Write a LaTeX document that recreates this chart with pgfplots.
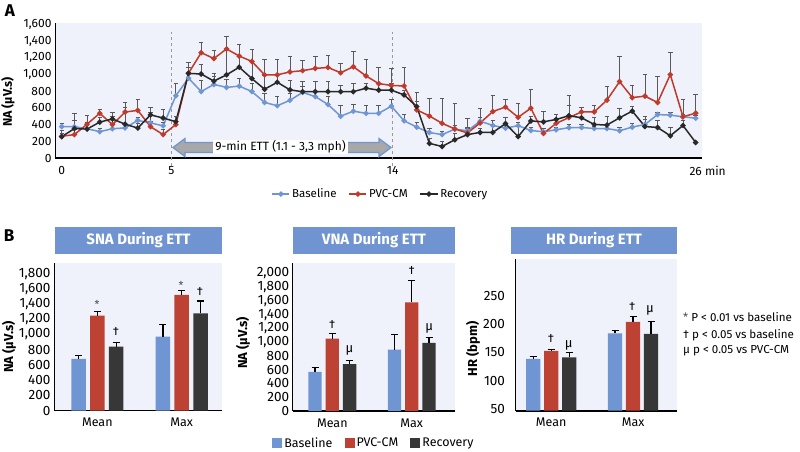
\documentclass[border=0pt]{standalone}
\usepackage{pgfplots}
\usepackage{pgfplotstable}
\pgfplotsset{compat=1.18}
\usepackage{fontspec}
\setmainfont{Fira Sans}
\definecolor{cblue}{RGB}{111,150,210}
\definecolor{cred}{RGB}{192,57,43}
\definecolor{cblack}{RGB}{40,40,40}
\definecolor{bgc}{RGB}{239,242,250}
\definecolor{tbox}{RGB}{112,148,210}
\definecolor{barred}{RGB}{189,66,51}
\definecolor{barblack}{RGB}{55,55,55}
\definecolor{arrgray}{RGB}{168,168,168}
\newcommand{\fs}[1]{\fontsize{#1}{#1}\selectfont}

\pgfplotstableread{
x b be r re k ke
0 375 40 260 30 255 70
1 375 80 280 60 352 180
2 350 40 405 110 346 85
3 315 40 535 45 430 60
4 350 60 400 95 467 75
5 360 50 550 115 405 200
6 450 40 570 135 358 60
7 420 130 375 60 516 85
8 385 40 280 60 478 100
9 745 145 400 40 435 60
10 955 70 1015 125 1012 75
11 795 140 1260 125 1005 110
12 880 100 1190 95 920 90
13 845 100 1305 150 995 310
14 860 90 1220 145 1086 140
15 795 100 1155 150 950 205
16 665 110 995 190 823 170
17 625 110 995 190 906 90
18 690 80 1030 190 815 110
19 785 70 1045 120 793 120
20 735 60 1072 140 794 125
21 640 100 1083 145 794 120
22 500 135 1020 115 794 80
23 560 85 1092 180 794 95
24 535 100 982 200 835 60
25 535 100 890 190 812 80
26 620 85 868 210 812 80
27 445 80 862 220 755 60
28 370 60 576 210 616 60
29 305 50 503 210 175 60
30 280 40 415 295 138 60
31 345 50 348 300 218 80
32 326 150 300 60 280 90
33 440 50 419 175 306 50
34 390 60 556 190 306 70
35 358 40 610 90 411 70
36 387 40 487 170 256 130
37 329 40 596 220 443 60
38 314 40 294 60 433 125
39 338 30 415 60 461 60
40 363 40 483 150 506 240
41 365 40 552 60 481 60
42 353 30 552 75 401 80
43 353 40 692 160 394 100
44 326 40 914 305 481 115
45 370 40 723 150 561 60
46 401 95 740 260 377 80
47 520 30 664 310 365 90
48 513 30 998 265 266 95
49 493 30 493 210 389 60
50 477 30 537 220 186 0
}\dataA

\pgfplotsset{
  barax/.style={
    scale only axis, anchor=south west,
    axis background/.style={fill=bgc},
    axis x line*=bottom, axis y line*=left,
    x axis line style={line width=1.6pt, black},
    y axis line style={line width=0.9pt, black},
    major tick length=0pt,
    xtick={0,1}, xticklabels={Mean,Max},
    ybar,
    /pgf/number format/assume math mode=true,
    /pgf/number format/1000 sep={,},
    yticklabel style={font=\fs{13.5}},
    xticklabel style={font=\fs{12.5}, yshift=-4pt},
    error bars/y dir=plus, error bars/y explicit,
    error bars/error bar style={line width=1.2pt, black},
    error bars/error mark options={rotate=90, mark size=3.5pt, line width=1.2pt, black},
  },
}

\begin{document}
\begin{tikzpicture}
\useasboundingbox (0,0) rectangle (800pt,-451pt);

% ---------------- Panel A ----------------
\node[font=\bfseries\fs{17}] at (10pt,-11pt) {A};
\begin{axis}[
  at={(55pt,-158pt)}, anchor=south west,
  scale only axis, width=647pt, height=135pt,
  xmin=-0.53, xmax=50.5, ymin=0, ymax=1615,
  clip=false,
  axis background/.style={fill=bgc},
  axis x line*=bottom, axis y line*=left,
  x axis line style={line width=1.6pt, black},
  y axis line style={line width=0.9pt, black},
  major tick length=0pt,
  xtick={0,8.65,26.1,50},
  xticklabels={0,5,14,{26\rlap{ min}}},
  ytick={0,200,...,1600},
  /pgf/number format/assume math mode=true,
  /pgf/number format/1000 sep={,},
  tick label style={font=\fs{12}},
  xticklabel style={yshift=-5pt},
  ylabel={NA (μV.s)},
  every axis y label/.style={at={(axis description cs:-0.073,0.415)}, rotate=90, anchor=center, font=\bfseries\fs{12.5}},
  legend style={at={(0.503,-0.267)}, anchor=center, legend columns=3, draw=none, fill=none,
    font=\fs{11.5}, /tikz/every even column/.append style={column sep=10pt}},
  error bars/y dir=plus, error bars/y explicit,
  error bars/error bar style={line width=0.7pt, black!65},
  error bars/error mark options={rotate=90, mark size=2.2pt, line width=0.7pt, black!65},
]
\draw[dashed, black!40, line width=0.8pt] (axis cs:8.65,-90) -- (axis cs:8.65,1510);
\draw[dashed, black!40, line width=0.8pt] (axis cs:26.1,-90) -- (axis cs:26.1,1510);
\addplot[color=cblue, line width=1.5pt, mark=*, mark size=1.9pt] table[x=x, y=b, y error=be] {\dataA};
\addplot[color=cred, line width=1.5pt, mark=*, mark size=1.9pt] table[x=x, y=r, y error=re] {\dataA};
\addplot[color=cblack, line width=1.5pt, mark=*, mark size=1.9pt] table[x=x, y=k, y error=ke] {\dataA};
\legend{Baseline, PVC-CM, Recovery}
\end{axis}

% ETT arrow
\filldraw[fill=arrgray, draw=cblue, line width=1.3pt]
  (173pt,-147.5pt) -- (185pt,-138.5pt) -- (185pt,-142.5pt) -- (379pt,-142.5pt) -- (379pt,-138.5pt)
  -- (391pt,-147.5pt) -- (379pt,-156.5pt) -- (379pt,-152.5pt) -- (185pt,-152.5pt) -- (185pt,-156.5pt) -- cycle;
\node[fill=white, inner sep=1pt, minimum width=135pt, minimum height=13pt, font=\fs{12}] at (280.5pt,-147pt) {9-min ETT (1.1 - 3,3 mph)};

% ---------------- Panel B ----------------
\node[font=\bfseries\fs{17}] at (9pt,-236pt) {B};
\node[fill=tbox, minimum width=167pt, minimum height=27pt, inner sep=0pt, text=white, font=\bfseries\fs{15}] at (138.5pt,-240.5pt) {SNA During ETT};
\node[fill=tbox, minimum width=162pt, minimum height=27pt, inner sep=0pt, text=white, font=\bfseries\fs{15}] at (374pt,-240.5pt) {VNA During ETT};
\node[fill=tbox, minimum width=166pt, minimum height=27pt, inner sep=0pt, text=white, font=\bfseries\fs{15}] at (594pt,-240.5pt) {HR During ETT};

% SNA
\begin{axis}[barax,
  at={(54pt,-410.5pt)}, width=168pt, height=147.2pt,
  xmin=-0.513, xmax=1.477, ymin=0, ymax=1937,
  ytick={0,200,...,1800},
  bar width=14.5pt, ybar=4.3pt,
  ylabel={NA (μV.s)},
  every axis y label/.style={at={(axis description cs:-0.268,0.431)}, rotate=90, anchor=center, font=\bfseries\fs{13}},
]
\addplot[fill=cblue, draw=none] coordinates {(0,678) +- (0,48) (1,971) +- (0,163)};
\addplot[fill=barred, draw=none] coordinates {(0,1248) +- (0,52) (1,1520) +- (0,57)};
\addplot[fill=barblack, draw=none] coordinates {(0,840) +- (0,57) (1,1279) +- (0,162)};
\end{axis}

% VNA
\begin{axis}[barax,
  at={(292.7pt,-411pt)}, width=162.3pt, height=147.7pt,
  xmin=-0.499, xmax=1.545, ymin=0, ymax=2146,
  ytick={0,200,...,2000},
  bar width=13.3pt, ybar=4pt,
  ylabel={NA (μV.s)},
  every axis y label/.style={at={(axis description cs:-0.306,0.46)}, rotate=90, anchor=center, font=\bfseries\fs{13}},
  legend style={at={(0.5,-0.219)}, anchor=center, legend columns=3, draw=none, fill=none,
    font=\fs{12.5}, /tikz/every even column/.append style={column sep=10pt}},
  legend image code/.code={\fill[#1] (0pt,-5pt) rectangle (10pt,5pt);},
]
\addplot[fill=cblue, draw=none] coordinates {(0,568) +- (0,68) (1,893) +- (0,214)};
\addplot[fill=barred, draw=none] coordinates {(0,1053) +- (0,68) (1,1578) +- (0,315)};
\addplot[fill=barblack, draw=none] coordinates {(0,680) +- (0,53) (1,990) +- (0,83)};
\legend{Baseline, PVC-CM, Recovery}
\end{axis}

% HR
\begin{axis}[barax,
  at={(515.5pt,-410.7pt)}, width=161.8pt, height=151.7pt,
  xmin=-0.436, xmax=1.54, ymin=47, ymax=315,
  ytick={50,100,...,250},
  bar width=14.3pt, ybar=3.7pt,
  yticklabel style={xshift=-7pt},
  ylabel={HR (bpm)},
  every axis y label/.style={at={(axis description cs:-0.263,0.407)}, rotate=90, anchor=center, font=\bfseries\fs{13}},
]
\addplot[fill=cblue, draw=none] coordinates {(0,138.4) +- (0,4.6) (1,183.8) +- (0,4.2)};
\addplot[fill=barred, draw=none] coordinates {(0,152.5) +- (0,3) (1,204) +- (0,10)};
\addplot[fill=barblack, draw=none] coordinates {(0,141.3) +- (0,8.3) (1,182.7) +- (0,21.8)};
\end{axis}

% significance marks
\node[font=\fs{11}, text=black!70] at (97pt,-304pt) {*};
\node[font=\fs{12}] at (116pt,-331.7pt) {†};
\node[font=\fs{11}, text=black!70] at (181pt,-285pt) {*};
\node[font=\fs{12}] at (200pt,-291pt) {†};
\node[font=\fs{12}] at (332.3pt,-324pt) {†};
\node[font=\fs{13}] at (349.5pt,-350pt) {μ};
\node[font=\fs{12}] at (411.7pt,-270pt) {†};
\node[font=\fs{13}] at (429.3pt,-328.3pt) {μ};
\node[font=\fs{12}] at (551pt,-338.7pt) {†};
\node[font=\fs{13}] at (568.7pt,-345pt) {μ};
\node[font=\fs{12}] at (632.3pt,-306pt) {†};
\node[font=\fs{13}] at (650pt,-310pt) {μ};

% significance legend
\node[anchor=west, inner sep=0pt, font=\fs{11.6}] at (683pt,-316.7pt) {{\color{black!70}*}\ P < 0.01 vs baseline};
\node[anchor=west, inner sep=0pt, font=\fs{11.6}] at (683pt,-335pt) {†\ p < 0.05 vs baseline};
\node[anchor=west, inner sep=0pt, font=\fs{11.6}] at (683pt,-350.7pt) {μ\ p < 0.05 vs PVC-CM};
\end{tikzpicture}
\end{document}
